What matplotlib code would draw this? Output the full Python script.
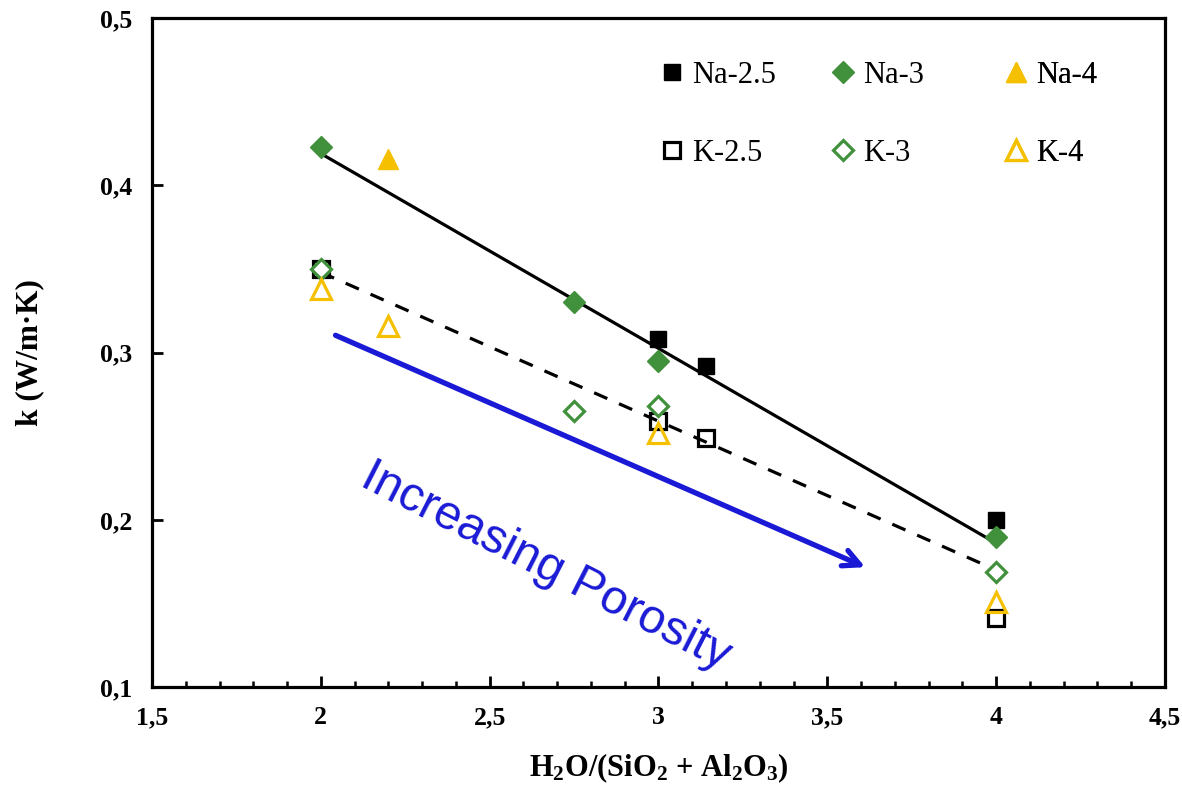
import numpy as np
import matplotlib
matplotlib.use("Agg")
import matplotlib.pyplot as plt
from matplotlib.ticker import MultipleLocator

plt.rcParams['font.family'] = ['Liberation Serif', 'DejaVu Serif']
plt.rcParams['mathtext.fontset'] = 'custom'
plt.rcParams['mathtext.rm'] = 'Liberation Serif:bold'
plt.rcParams['mathtext.it'] = 'Liberation Serif:bold'
plt.rcParams['mathtext.bf'] = 'Liberation Serif:bold'

# thermal conductivity vs water ratio
na25_x = [3.0, 3.14, 4.0]
na25_y = [0.308, 0.292, 0.200]
na3_x = [2.0, 2.75, 3.0, 4.0]
na3_y = [0.423, 0.330, 0.295, 0.190]
na4_x = [2.2]
na4_y = [0.416]

k25_x = [2.0, 3.0, 3.14, 4.0]
k25_y = [0.350, 0.259, 0.249, 0.141]
k3_x = [2.0, 2.75, 3.0, 4.0]
k3_y = [0.350, 0.265, 0.268, 0.169]
k4_x = [2.0, 2.2, 3.0, 4.0]
k4_y = [0.338, 0.316, 0.252, 0.151]

# trend lines (Na solid, K dashed)
fit_x = [2.0, 4.0]
na_fit = [0.419, 0.186]
k_fit = [0.348, 0.170]

x_ticks = [1.5, 2, 2.5, 3, 3.5, 4, 4.5]
x_labels = ["1,5", "2", "2,5", "3", "3,5", "4", "4,5"]
y_ticks = [0.1, 0.2, 0.3, 0.4, 0.5]
y_labels = ["0,1", "0,2", "0,3", "0,4", "0,5"]

green = '#41913C'
gold = '#F5C000'
blue = '#1A1AD6'

fig = plt.figure(figsize=(11.82, 7.87), dpi=100)
ax = fig.add_axes([0.1286, 0.127, 0.857, 0.850])

ax.plot(fit_x, na_fit, color='black', lw=2.3, zorder=2)
ax.plot(fit_x, k_fit, color='black', lw=2.3, ls=(0, (4.5, 4)), zorder=2)

h1, = ax.plot(na25_x, na25_y, 's', color='black', ms=12, ls='none', label='Na-2.5', zorder=3)
h2, = ax.plot(na3_x, na3_y, 'D', color=green, ms=11, ls='none', label='Na-3', zorder=3)
h3, = ax.plot(na4_x, na4_y, '^', color=gold, ms=14, ls='none', label='Na-4', zorder=3)
h4, = ax.plot(k25_x, k25_y, 's', mfc='none', mec='black', mew=2.3, ms=11, ls='none', label='K-2.5', zorder=3)
h5, = ax.plot(k3_x, k3_y, 'D', mfc='white', mec=green, mew=2.3, ms=10, ls='none', label='K-3', zorder=3)
h6, = ax.plot(k4_x, k4_y, '^', mfc='none', mec=gold, mew=2.3, ms=14, ls='none', label='K-4', zorder=3)

# porosity arrow
ax.annotate('', xy=(3.62, 0.171), xytext=(2.036, 0.311),
            arrowprops=dict(arrowstyle='->', color=blue, lw=3.8,
                            mutation_scale=30))
ax.text(2.665, 0.172, 'Increasing Porosity', color=blue, fontsize=34.5,
        family='Liberation Sans', rotation=-27, rotation_mode='anchor',
        ha='center', va='center')

ax.set_xlim(1.5, 4.5)
ax.set_ylim(0.1, 0.5)
ax.set_xticks(x_ticks)
ax.set_xticklabels(x_labels)
ax.set_yticks(y_ticks)
ax.set_yticklabels(y_labels)
ax.xaxis.set_minor_locator(MultipleLocator(0.1))
ax.tick_params(axis='both', which='major', direction='in', length=8, width=2,
               labelsize=18.5, pad=14)
ax.tick_params(axis='x', which='minor', direction='in', length=4, width=1.8)
for lab in ax.get_xticklabels() + ax.get_yticklabels():
    lab.set_fontweight('bold')
for sp in ax.spines.values():
    sp.set_linewidth(2.3)

ax.set_xlabel('H$_2$O/(SiO$_2$ + Al$_2$O$_3$)', fontsize=22, fontweight='bold', labelpad=16)
ax.set_ylabel('k (W/m·K)', fontsize=22.5, fontweight='bold', labelpad=40)

# one legend per column so the columns are evenly spaced
legend_cols = [(h1, h4), (h2, h5), (h3, h6)]
legend_x = [0.5015, 0.670, 0.841]
for (ha, hb), lx in zip(legend_cols, legend_x):
    leg = ax.legend(handles=[ha, hb], frameon=False, loc='upper left',
                    bbox_to_anchor=(lx, 0.936), fontsize=22,
                    handlelength=0.8, handletextpad=0.25, labelspacing=1.6,
                    borderpad=0, borderaxespad=0)
    ax.add_artist(leg)

fig.savefig('out.png', dpi=100)
